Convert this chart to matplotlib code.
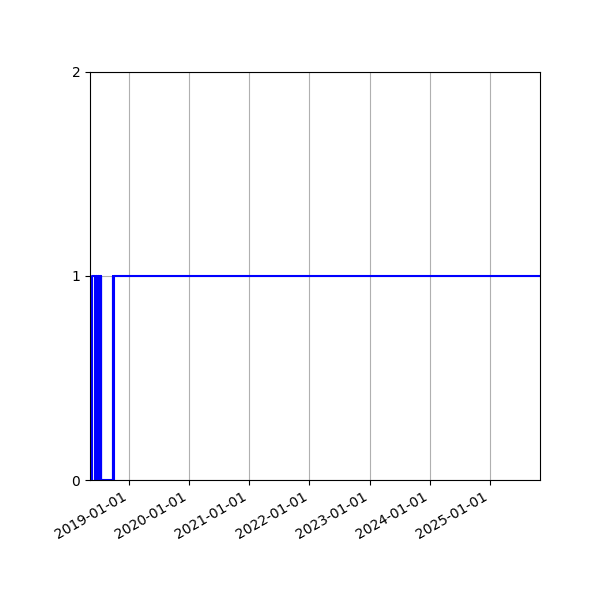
import matplotlib
matplotlib.use("Agg")
import matplotlib.pyplot as plt
import matplotlib.dates as mdates
import numpy as np
import pandas as pd

change_dates = [
    "2018-05-11", "2018-05-24", "2018-06-13", "2018-06-15", "2018-06-17", "2018-06-19",
    "2018-06-21", "2018-06-23", "2018-06-25", "2018-06-27", "2018-06-29", "2018-07-01",
    "2018-07-03", "2018-07-05", "2018-07-07", "2018-07-09", "2018-07-11", "2018-07-13",
    "2018-07-15", "2018-07-17", "2018-07-18", "2018-07-20", "2018-09-26", "2018-09-30",
    "2018-10-03", "2025-10-30",
]
values = [
    0, 1, 0, 1, 0, 1,
    0, 1, 0, 1, 0, 1,
    0, 1, 0, 1, 0, 1,
    0, 1, 0, 0, 1, 0,
    1, 1,
]
yticks = [0, 1, 2]

dates = pd.to_datetime(change_dates)

fig = plt.figure(figsize=(6, 6), dpi=100)
ax = fig.add_axes([0.15, 0.2, 0.75, 0.68])
ax.plot(dates, values, drawstyle="steps-post", color="blue", linewidth=1.5)
ax.set_xlim(dates[0], dates[-1])
ax.set_ylim(0, 2)
ax.set_yticks(yticks)
ax.xaxis.set_major_locator(mdates.YearLocator())
ax.xaxis.set_major_formatter(mdates.DateFormatter("%Y-%m-%d"))
ax.grid(True)
for lbl in ax.get_xticklabels():
    lbl.set_rotation(30)
    lbl.set_ha("right")
fig.savefig("out.png", dpi=100)
